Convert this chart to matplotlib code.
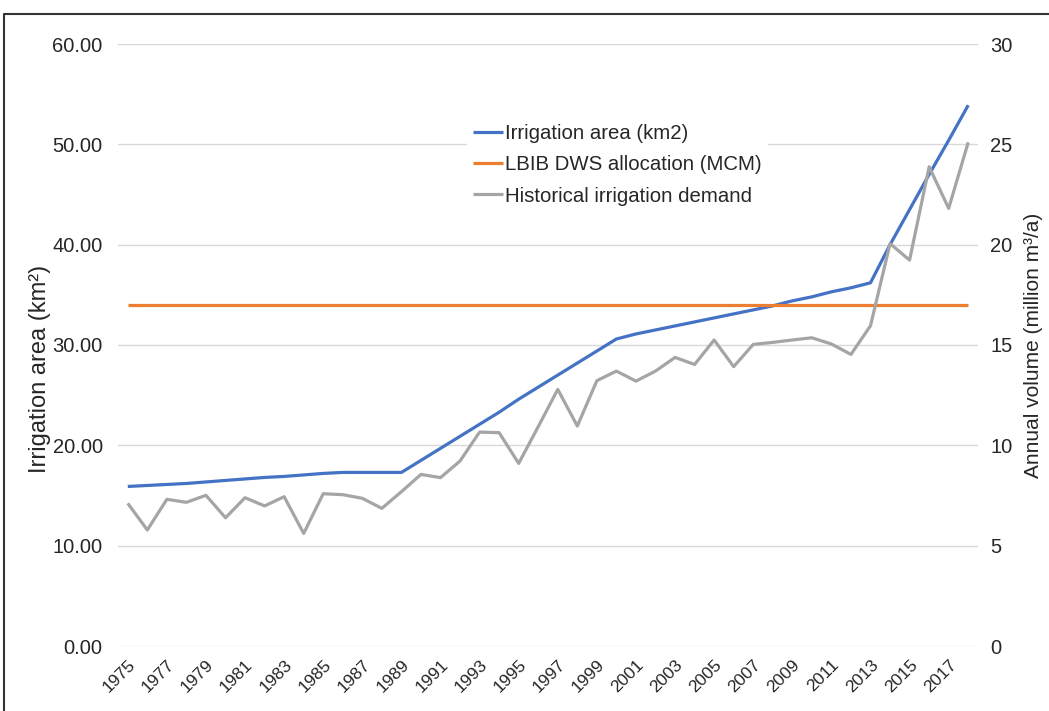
import matplotlib
matplotlib.use("Agg")
import matplotlib.pyplot as plt
from matplotlib.lines import Line2D

plt.rcParams['font.family'] = ['Liberation Sans', 'DejaVu Sans']

# years 1975..2018
years = list(range(1975, 2019))

# irrigation area (km2), left axis
irrigation_area = [15.9, 16.0, 16.1, 16.2, 16.35, 16.5, 16.65, 16.8, 16.9, 17.05, 17.2,
                   17.3, 17.3, 17.3, 17.3, 18.5, 19.7, 20.9, 22.1, 23.3, 24.6, 25.8,
                   27.0, 28.2, 29.4, 30.6, 31.1, 31.5, 31.9, 32.3, 32.7, 33.1, 33.5,
                   33.9, 34.4, 34.8, 35.3, 35.7, 36.2, 40.0, 43.5, 47.0, 50.4, 53.9]

# LBIB DWS allocation (MCM), right axis
dws_allocation = [17.0] * len(years)

# historical irrigation demand (million m3/a), right axis
hist_demand = [7.11, 5.78, 7.31, 7.16, 7.51, 6.39, 7.39, 6.98, 7.44, 5.61, 7.59,
               7.54, 7.36, 6.86, 7.69, 8.55, 8.39, 9.22, 10.66, 10.63, 9.10, 10.93,
               12.79, 10.96, 13.22, 13.70, 13.20, 13.70, 14.38, 14.03, 15.25, 13.92,
               15.03, 15.13, 15.25, 15.36, 15.05, 14.53, 15.96, 20.05, 19.23, 23.88,
               21.81, 25.10]

tick_years = years[::2]

blue = '#4472C4'
orange = '#ED7D31'
gray = '#A5A5A5'
txt = '#262626'

fig = plt.figure(figsize=(10.49, 7.11), dpi=100)
ax = fig.add_axes([118/1049, 1 - 646/711, (978-118)/1049, (646-44)/711])
ax2 = ax.twinx()

x = list(range(len(years)))
l1, = ax.plot(x, irrigation_area, color=blue, lw=2.3, solid_capstyle='butt')
l2, = ax2.plot(x, dws_allocation, color=orange, lw=2.3, solid_capstyle='butt')
l3, = ax2.plot(x, hist_demand, color=gray, lw=2.3, solid_capstyle='butt')

ax.set_xlim(-0.5, len(years) - 0.5)
ax.set_ylim(0, 60)
ax2.set_ylim(0, 30)
ax.set_yticks(range(0, 61, 10))
ax.set_yticklabels([f"{v:.2f}" for v in range(0, 61, 10)])
ax2.set_yticks(range(0, 31, 5))

ax.set_xticks(x[::2])
ax.set_xticklabels([str(y) for y in tick_years], rotation=45, ha='right',
                   rotation_mode='anchor', fontsize=12.5, color=txt)

ax.grid(axis='y', color='#D9D9D9', lw=1)
ax.set_axisbelow(True)
for a in (ax, ax2):
    for s in a.spines.values():
        s.set_visible(False)
ax.tick_params(axis='both', length=0, colors=txt)
ax.tick_params(axis='y', pad=11, labelsize=14.5)
ax.tick_params(axis='x', pad=8, labelsize=12.5)
ax2.tick_params(axis='y', length=0, colors=txt, labelsize=14.5, pad=9)

ax.set_ylabel("Irrigation area (km²)", fontsize=17, color=txt)
ax.yaxis.set_label_coords(-0.078, 0.46)
ax2.set_ylabel("Annual volume (million m³/a)", fontsize=15, color=txt, labelpad=8)

leg = ax2.legend([l1, l2, l3],
                 ["Irrigation area (km2)", "LBIB DWS allocation (MCM)",
                  "Historical irrigation demand"],
                 loc='upper left', bbox_to_anchor=(467/1049, 1 - 118/711),
                 bbox_transform=fig.transFigure, fontsize=14.7, frameon=True,
                 fancybox=False, borderpad=0.3, handlelength=1.45,
                 handletextpad=0.1, labelspacing=0.6, borderaxespad=0)
leg.get_frame().set_facecolor('white')
leg.get_frame().set_edgecolor('none')
leg.get_frame().set_alpha(1)
for t in leg.get_texts():
    t.set_color(txt)

# outer frame (left and top edges visible)
fig.add_artist(Line2D([4/1049, 4/1049, 1.0], [0.0, 1 - 14/711, 1 - 14/711],
                      transform=fig.transFigure, color='#333333', lw=1.5))

fig.savefig("out.png", dpi=100)
